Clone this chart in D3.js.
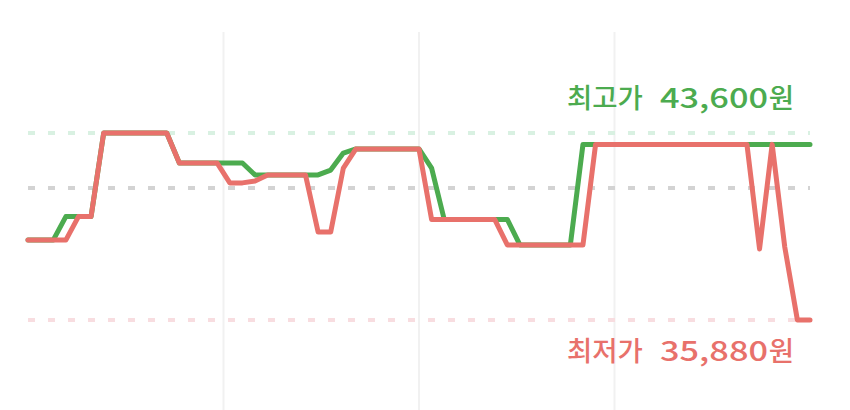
<!DOCTYPE html>
<html lang="ko">

<head>
    <meta charset="UTF-8">
    <title>가격 추이</title>
    <script src="https://d3js.org/d3.v7.min.js"></script>
    <style>
        html, body {
            margin: 0;
            padding: 0;
            background: #fff;
        }
        #chart {
            width: 850px;
            height: 410px;
        }
    </style>
</head>

<body>
    <div id="chart"></div>

    <script>
        // Daily prices (index = day)
        var greenPrices = [
            39180, 39180, 39180, 40150, 40150, 40150, 43600, 43600, 43600, 43600,
            43600, 43600, 42360, 42360, 42360, 42360, 42360, 42360, 41870, 41870,
            41870, 41870, 41870, 41870, 42070, 42770, 42940, 42940, 42940, 42940,
            42940, 42940, 42150, 40030, 40030, 40030, 40030, 40030, 40030, 38980,
            38980, 38980, 38980, 38980, 43130, 43130, 43130, 43130, 43130, 43130,
            43130, 43130, 43130, 43130, 43130, 43130, 43130, 43130, 43130, 43130,
            43130, 43130, 43130
        ];
        var redPrices = [
            39180, 39180, 39180, 39180, 40150, 40150, 43600, 43600, 43600, 43600,
            43600, 43600, 42360, 42360, 42360, 42360, 41540, 41540, 41620, 41870,
            41870, 41870, 41870, 39510, 39510, 42150, 42940, 42940, 42940, 42940,
            42940, 42940, 40030, 40030, 40030, 40030, 40030, 40030, 38980, 38980,
            38980, 38980, 38980, 38980, 38980, 43130, 43130, 43130, 43130, 43130,
            43130, 43130, 43130, 43130, 43130, 43130, 43130, 43130, 38810, 43130,
            38890, 35880, 35880
        ];

        // reference levels
        var maxPrice = 43600;
        var minPrice = 35880;
        var avgPrice = 41330;

        // vertical grid positions (quarters of the period)
        var gridDays = [15.5, 31, 46.5];

        var width = 850,
            height = 410;

        var green = "#4cab4f",
            red = "#e8716b";

        var svg = d3.select("#chart")
            .append("svg")
            .attr("width", width)
            .attr("height", height);

        var x = d3.scaleLinear()
            .domain([0, greenPrices.length - 1])
            .range([28, 810]);

        var y = d3.scaleLinear()
            .domain([minPrice, maxPrice])
            .range([320, 133]);

        // vertical grid
        svg.selectAll("line.grid")
            .data(gridDays)
            .enter()
            .append("line")
            .attr("class", "grid")
            .attr("x1", d => x(d))
            .attr("x2", d => x(d))
            .attr("y1", 32)
            .attr("y2", height)
            .attr("stroke", "#f1f1f1")
            .attr("stroke-width", 2);

        // dashed reference lines
        var levels = [
            { value: maxPrice, color: "#d9f1e2" },
            { value: avgPrice, color: "#d3d3d3" },
            { value: minPrice, color: "#f8dde0" }
        ];

        svg.selectAll("line.level")
            .data(levels)
            .enter()
            .append("line")
            .attr("class", "level")
            .attr("x1", x(0))
            .attr("x2", x(greenPrices.length - 1))
            .attr("y1", d => y(d.value))
            .attr("y2", d => y(d.value))
            .attr("stroke", d => d.color)
            .attr("stroke-width", 4)
            .attr("stroke-dasharray", "7,13");

        var line = d3.line()
            .x((d, i) => x(i))
            .y(d => y(d));

        // green first, red drawn on top
        [[greenPrices, green], [redPrices, red]].forEach(function (s) {
            svg.append("path")
                .datum(s[0])
                .attr("d", line)
                .attr("fill", "none")
                .attr("stroke", s[1])
                .attr("stroke-width", 5)
                .attr("stroke-linejoin", "round")
                .attr("stroke-linecap", "round");
        });

        // labels: wide digits like the original UI font
        var fmt = d3.format(",");

        function label(prefix, value, baseline, color) {
            var g = svg.append("g")
                .attr("fill", color)
                .style("font-family", "'Noto Sans CJK KR', 'Noto Sans', sans-serif")
                .style("font-size", "27.5px")
                .style("font-weight", 500);

            g.append("text")
                .attr("x", 567)
                .attr("y", baseline)
                .text(prefix);

            g.append("text")
                .attr("x", 660)
                .attr("y", baseline)
                .attr("textLength", 108)
                .attr("lengthAdjust", "spacingAndGlyphs")
                .text(fmt(value));

            g.append("text")
                .attr("x", 794)
                .attr("y", baseline)
                .attr("text-anchor", "end")
                .text("원");
        }

        label("최고가", maxPrice, 108, green);
        label("최저가", minPrice, 361, red);
    </script>
</body>

</html>
